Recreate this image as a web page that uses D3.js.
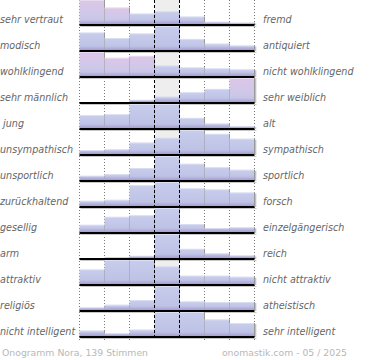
<!DOCTYPE html>
<html><head><meta charset="utf-8">
<script src="https://cdn.jsdelivr.net/npm/d3@7/dist/d3.min.js"></script>
<style>html,body{margin:0;padding:0;background:#fff;}svg{display:block;}</style>
</head><body>
<script>
const leftLabels = ["sehr vertraut","modisch","wohlklingend","sehr männlich"," jung","unsympathisch","unsportlich","zurückhaltend","gesellig","arm","attraktiv","religiös","nicht intelligent"];
const rightLabels = ["fremd","antiquiert","nicht wohlklingend","sehr weiblich","alt","sympathisch","sportlich","forsch","einzelgängerisch","reich","nicht attraktiv","atheistisch","sehr intelligent"];
const scaleSteps = [1,2,3,4,5,6,7];
const values = [
  [32,22,14,17,10,3,2],
  [19,13,18,26,12,7,5],
  [25,19,21,11,9,8,7],
  [0,0,4,10,18,24,44],
  [14,15,26,26,11,5,2],
  [4,5,12,17,25,21,16],
  [5,7,14,28,19,15,12],
  [5,6,20,23,17,16,13],
  [9,19,21,30,10,5,6],
  [0,2,5,55,21,11,6],
  [14,23,23,17,8,8,7],
  [4,8,15,36,13,12,12],
  [6,3,7,26,26,18,14]
];
const footerLeft = "Onogramm Nora, 139 Stimmen";
const footerRight = "onomastik.com - 05 / 2025";

const W = 370, H = 360;
const svg = d3.select("body").append("svg").attr("width", W).attr("height", H);
const defs = svg.append("defs");
function grad(id, stops){
  const g = defs.append("linearGradient").attr("id", id).attr("x1",0).attr("y1",0).attr("x2",0).attr("y2",1);
  stops.forEach(s => g.append("stop").attr("offset", s[0]).attr("stop-color", s[1]).attr("stop-opacity", s[2] === undefined ? 1 : s[2]));
}
grad("gBlue", [[0,"#c8cdec"],[1,"#bcc1e5"]]);
grad("gPink", [[0,"#ddc6e7"],[0.6,"#cfc8e9"],[1,"#c0c4e6"]]);
grad("gBottom", [[0,"#a79fcf",0],[1,"#a49bcc",0.9]]);

const x = d3.scaleBand().domain(scaleSteps).range([79.5, 254.5]).padding(0);
const y = d3.scalePoint().domain(d3.range(leftLabels.length)).range([25, 337]);
const rowH = 24;

// centre background
svg.append("rect").attr("x", x(4)).attr("y", 0).attr("width", x.bandwidth())
  .attr("height", y(12)).attr("fill", "#eeeeee");

// dotted grid lines
[1,2,3,6,7].map(s => x(s)).concat([x.range()[1]]).forEach(xx => {
  svg.append("line").attr("x1", xx).attr("x2", xx).attr("y1", 0).attr("y2", y(12)+3)
    .attr("stroke", "#777").attr("stroke-width", 1).attr("stroke-dasharray", "1,2");
});

values.forEach((row, i) => {
  const base = y(i) - 1;
  const h = d3.scaleLinear().domain([0, d3.max(row)]).range([0, rowH]);
  const maxIdx = row.indexOf(d3.max(row));
  const extreme = maxIdx === 0 || maxIdx === 6;
  const g = svg.append("g");
  row.forEach((v, j) => {
    const bh = h(v);
    if (bh <= 0) return;
    const sameSide = (maxIdx === 0 && j <= 2) || (maxIdx === 6 && j >= 4);
    const pink = extreme && sameSide && v >= 0.6 * row[maxIdx];
    const x0 = x(scaleSteps[j]);
    g.append("rect").attr("x", x0).attr("y", base - bh).attr("width", x.bandwidth()).attr("height", bh)
      .attr("fill", pink ? "url(#gPink)" : "url(#gBlue)");
    const sb = Math.min(4, bh);
    g.append("rect").attr("x", x0).attr("y", base - sb).attr("width", x.bandwidth()).attr("height", sb)
      .attr("fill", "url(#gBottom)");
    // top highlight edge
    g.append("line").attr("x1", x0).attr("x2", x0 + x.bandwidth()).attr("y1", base - bh + 0.5).attr("y2", base - bh + 0.5)
      .attr("stroke", "#ffffff").attr("stroke-opacity", 0.35);
    // right edge
    g.append("line").attr("x1", x0 + x.bandwidth()).attr("x2", x0 + x.bandwidth())
      .attr("y1", base - bh).attr("y2", base).attr("stroke", "#999").attr("stroke-width", 1);
    if (j === 6) {
      g.append("line").attr("x1", x0 + x.bandwidth() + 1.2).attr("x2", x0 + x.bandwidth() + 1.2)
        .attr("y1", base - bh + 1).attr("y2", base + 1).attr("stroke", "#bbb").attr("stroke-width", 1.2);
    }
  });
  // baseline shadow + baseline
  svg.append("line").attr("x1", x.range()[0] + 1).attr("x2", x.range()[1] + 2).attr("y1", y(i) + 1.5).attr("y2", y(i) + 1.5)
    .attr("stroke", "#c8c8c8").attr("stroke-width", 1.2);
  svg.append("line").attr("x1", x.range()[0]).attr("x2", x.range()[1]).attr("y1", y(i)).attr("y2", y(i))
    .attr("stroke", "#000").attr("stroke-width", 1.8);
});

// dashed centre lines
[x(4), x(5)].forEach(xx => {
  svg.append("line").attr("x1", xx).attr("x2", xx).attr("y1", 0).attr("y2", y(12)+3)
    .attr("stroke", "#000").attr("stroke-width", 1).attr("stroke-dasharray", "3,2");
});

const font = "'DejaVu Sans', Verdana, sans-serif";
svg.append("g").selectAll("text").data(leftLabels).join("text")
  .attr("x", 0).attr("y", (d, i) => y(i) - 2)
  .attr("font-family", font).attr("font-size", 9.6).attr("font-style", "italic")
  .attr("fill", "#666").style("white-space", "pre").text(d => d);
svg.append("g").selectAll("text").data(rightLabels).join("text")
  .attr("x", 263).attr("y", (d, i) => y(i) - 2)
  .attr("font-family", font).attr("font-size", 9.6).attr("font-style", "italic")
  .attr("fill", "#666").text(d => d);

svg.append("text").attr("x", 2).attr("y", 355.5).attr("font-family", font).attr("font-size", 9.3)
  .attr("fill", "#b8b8b8").text(footerLeft);
svg.append("text").attr("x", 347).attr("y", 355.5).attr("text-anchor", "end").attr("font-family", font).attr("font-size", 9.3)
  .attr("fill", "#b8b8b8").text(footerRight);
</script>
</body></html>
